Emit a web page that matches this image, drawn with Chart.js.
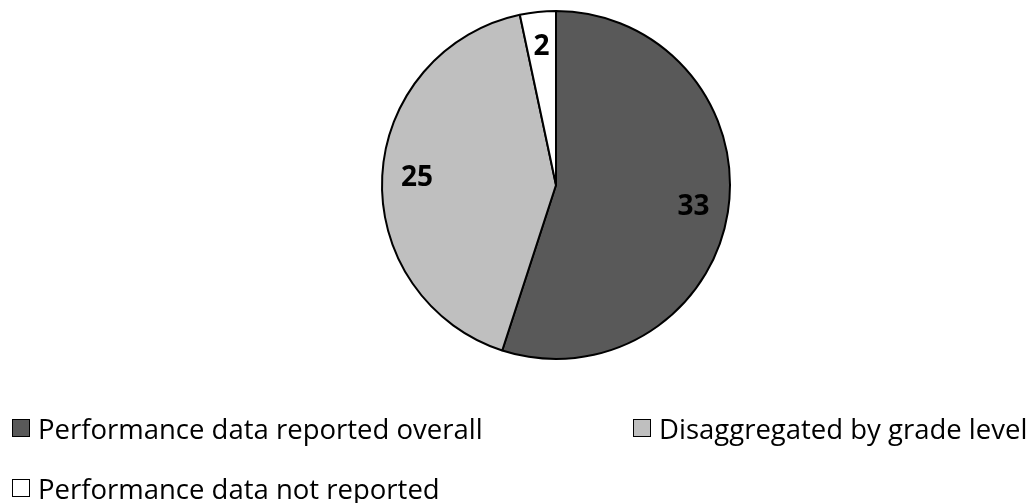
<!DOCTYPE html>
<html>
<head>
<meta charset="utf-8">
<script src="https://cdn.jsdelivr.net/npm/chart.js@4.4.0/dist/chart.umd.min.js"></script>
<style>
  html, body { margin: 0; padding: 0; background: #fff; }
  #wrap { position: relative; width: 1036px; height: 503px; }
  #c { position: absolute; left: 0; top: 0; }
  #legend { position: absolute; left: 0; top: 0; width: 1036px; height: 503px; pointer-events: none;
            font-family: "Open Sans", Lato, sans-serif; font-size: 27.5px; color: #000; }
  .item { position: absolute; display: flex; align-items: center; white-space: nowrap; }
  .box { width: 16px; height: 16px; border: 1.5px solid #000; margin-right: 8px; box-sizing: content-box; }
</style>
</head>
<body>
<div id="wrap">
  <canvas id="c" width="1036" height="503"></canvas>
  <div id="legend"></div>
</div>
<script>
const categories = ["Performance data reported overall", "Disaggregated by grade level", "Performance data not reported"];
const values = [33, 25, 2];
const colors = ["#595959", "#BFBFBF", "#FFFFFF"];

const labelPlugin = {
  id: 'sliceLabels',
  afterDatasetsDraw(chart) {
    const ctx = chart.ctx;
    const meta = chart.getDatasetMeta(0);
    ctx.save();
    ctx.font = 'bold 28px "Open Sans", Lato, sans-serif';
    ctx.fillStyle = '#000';
    ctx.textAlign = 'center';
    ctx.textBaseline = 'middle';
    meta.data.forEach((arc, i) => {
      const p = arc.getProps(['x', 'y', 'startAngle', 'endAngle', 'outerRadius'], true);
      const mid = (p.startAngle + p.endAngle) / 2;
      const r = p.outerRadius * 0.8;
      ctx.fillText(String(values[i]), p.x + Math.cos(mid) * r, p.y + Math.sin(mid) * r);
    });
    ctx.restore();
  }
};

const chart = new Chart(document.getElementById('c'), {
  type: 'pie',
  data: {
    labels: categories,
    datasets: [{
      data: values,
      backgroundColor: colors,
      borderColor: '#000',
      borderWidth: 2
    }]
  },
  options: {
    responsive: false,
    animation: false,
    layout: { padding: { top: 10, bottom: 143, left: 76, right: 0 } },
    plugins: { legend: { display: false }, tooltip: { enabled: false } }
  },
  plugins: [labelPlugin]
});

// HTML legend built from the chart data
const legendPos = [[12, 428], [633, 428], [12, 488]];
const legend = document.getElementById('legend');
categories.forEach((lab, i) => {
  const d = document.createElement('div');
  d.className = 'item';
  d.style.left = legendPos[i][0] + 'px';
  d.style.top = (legendPos[i][1] - 18) + 'px';
  d.style.height = '36px';
  const b = document.createElement('span');
  b.className = 'box';
  b.style.background = colors[i];
  const t = document.createElement('span');
  t.textContent = lab;
  d.appendChild(b); d.appendChild(t);
  legend.appendChild(d);
});
</script>
</body>
</html>
